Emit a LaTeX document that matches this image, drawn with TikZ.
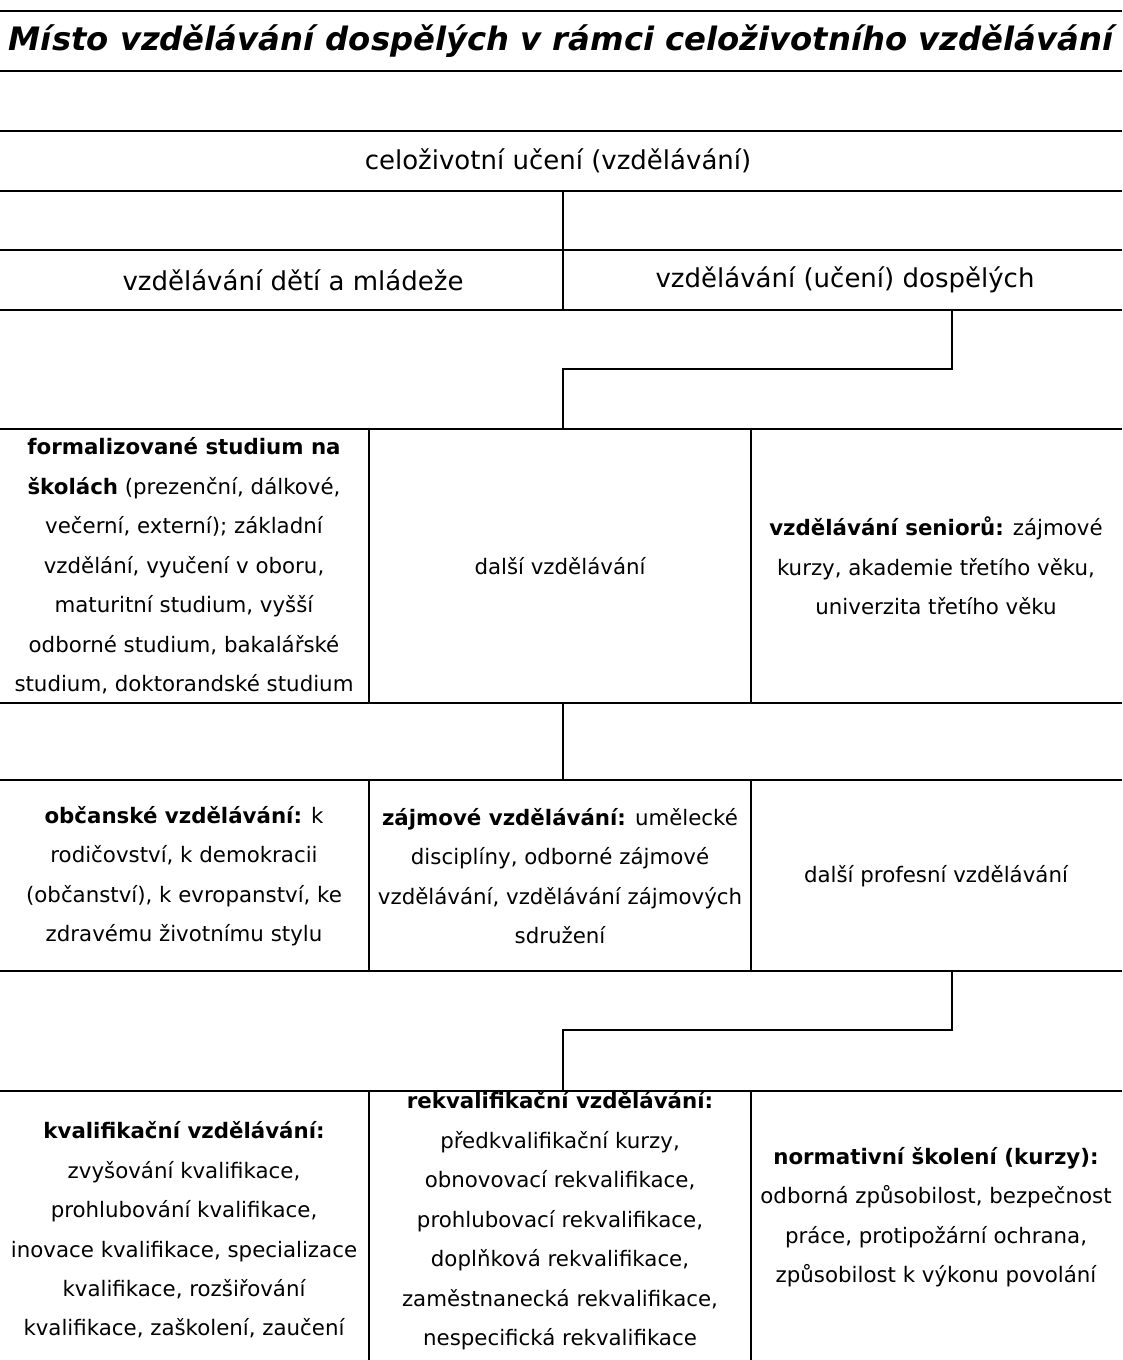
\documentclass[tikz,border=0pt]{standalone}
\usepackage{fontspec}
\setmainfont{DejaVu Sans}
\usetikzlibrary{positioning}
\tikzset{
  rowline/.style={line width=2.2pt},
  colline/.style={line width=1.5pt},
  titletext/.style={font=\fontsize{24.2}{28}\selectfont\bfseries\itshape, inner sep=0pt},
  headtext/.style={font=\fontsize{19.5}{22}\selectfont, inner sep=0pt},
  celltext/.style={align=center, font=\fontsize{16}{29.6}\selectfont, inner sep=0pt}
}

\begin{document}
\begin{tikzpicture}[x=0.75pt, y=-0.75pt]
				\useasboundingbox (0,0) rectangle (1122,1360);
				
				% Add row lines
				\foreach \y in {11,71,131,191,250,310,429,703,780,971,1091}
				\draw[rowline] (0,\y) -- (1122,\y);
				
				% Add title and heads
				\node[titletext] (title) at (561,41) {Místo vzdělávání dospělých v rámci celoživotního vzdělávání};
				\node[headtext] (lifelong) at (558,161) {celoživotní učení (vzdělávání)};
				\node[headtext] (youth) at (293,280) {vzdělávání dětí a mládeže};
				\node[headtext] (adult) at (845,280) {vzdělávání (učení) dospělých};
				\draw[colline] (563,191) -- (563,310);
				
				% first row of cells
				\node[celltext] (formal) at (184,566) {\textbf{formalizované studium na}\\\textbf{školách} (prezenční, dálkové,\\večerní, externí); základní\\vzdělání, vyučení v oboru,\\maturitní studium, vyšší\\odborné studium, bakalářské\\studium, doktorandské studium};
				\node[celltext] (further) at (560,566) {další vzdělávání};
				\node[celltext] (senior) at (936,566) {\textbf{vzdělávání seniorů:} zájmové\\kurzy, akademie třetího věku,\\univerzita třetího věku};
				\draw[colline] (369,429) -- (369,703);
				\draw[colline] (751,429) -- (751,703);
				
				% second row of cells
				\node[celltext] (civic) at (184,876) {\textbf{občanské vzdělávání:} k\\rodičovství, k demokracii\\(občanství), k evropanství, ke\\zdravému životnímu stylu};
				\node[celltext] (hobby) at (560,876) {\textbf{zájmové vzdělávání:} umělecké\\disciplíny, odborné zájmové\\vzdělávání, vzdělávání zájmových\\sdružení};
				\node[celltext] (profession) at (936,876) {další profesní vzdělávání};
				\draw[colline] (369,780) -- (369,971);
				\draw[colline] (751,780) -- (751,971);
				
				% third row of cells
				\node[celltext] (qualif) at (184,1230) {\textbf{kvalifikační vzdělávání:}\\zvyšování kvalifikace,\\prohlubování kvalifikace,\\inovace kvalifikace, specializace\\kvalifikace, rozšiřování\\kvalifikace, zaškolení, zaučení};
				\node[celltext] (requalif) at (560,1221) {\textbf{rekvalifikační vzdělávání:}\\předkvalifikační kurzy,\\obnovovací rekvalifikace,\\prohlubovací rekvalifikace,\\doplňková rekvalifikace,\\zaměstnanecká rekvalifikace,\\nespecifická rekvalifikace};
				\node[celltext] (norm) at (936,1217) {\textbf{normativní školení (kurzy):}\\odborná způsobilost, bezpečnost\\práce, protipožární ochrana,\\způsobilost k výkonu povolání};
				\draw[colline] (369,1091) -- (369,1360);
				\draw[colline] (751,1091) -- (751,1360);
				
				% connectors
				\coordinate (adultfoot) at (952,310);
				\coordinate (furtherhead) at (563,429);
				\coordinate (furtherfoot) at (563,703);
				\coordinate (hobbyhead) at (563,780);
				\coordinate (profoot) at (952,971);
				\coordinate (requalifhead) at (563,1091);
				\draw[colline] (adultfoot) -- ++(0,59) -| (furtherhead);
				\draw[colline] (furtherfoot) -- (hobbyhead);
				\draw[colline] (profoot) -- ++(0,59) -| (requalifhead);
				
\end{tikzpicture}
\end{document}
